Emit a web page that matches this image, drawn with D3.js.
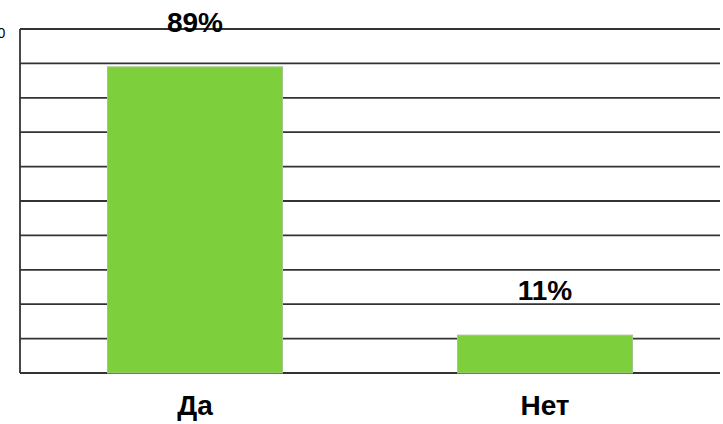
<!DOCTYPE html>
<html>
<head>
<meta charset="utf-8">
<script src="https://cdn.jsdelivr.net/npm/d3@7"></script>
<style>
    body { margin: 0; background: #fff; }
    svg { display: block; font-family: "Liberation Sans", Arial, sans-serif; }
    .value { font-size: 28px; font-weight: bold; fill: #000; }
    .category { font-size: 28px; font-weight: bold; fill: #000; }
    .tick-label { font-size: 14px; fill: #000; }
</style>
</head>
<body>
<script>
// Chart data
const categories = ["Да", "Нет"];
const values = [89, 11];
const valueLabels = ["89%", "11%"];
const yTicks = [0, 10, 20, 30, 40, 50, 60, 70, 80, 90, 100];

function createBarChart(width, height, margin) {
    const svg = d3.select("body")
        .append("svg")
        .attr("width", width)
        .attr("height", height);

    // Scales
    const x = d3.scaleBand()
        .domain(categories)
        .range([margin.left, width - margin.right])
        .paddingInner(0.5)
        .paddingOuter(0.25);

    const y = d3.scaleLinear()
        .domain([0, 100])
        .range([height - margin.bottom, margin.top]);

    // Horizontal grid lines
    svg.append("g")
        .attr("id", "grid")
        .selectAll("line")
        .data(yTicks)
        .join("line")
        .attr("x1", margin.left)
        .attr("x2", width - margin.right)
        .attr("y1", d => y(d))
        .attr("y2", d => y(d))
        .attr("stroke", "#333")
        .attr("stroke-width", 1.8);

    // Left axis line
    svg.append("line")
        .attr("x1", margin.left)
        .attr("x2", margin.left)
        .attr("y1", y(100))
        .attr("y2", y(0))
        .attr("stroke", "#333")
        .attr("stroke-width", 1.8);

    // Tick labels, cut by the left edge like in the source (only "100" peeks in)
    svg.append("g")
        .selectAll("text")
        .data(yTicks)
        .join("text")
        .attr("class", "tick-label")
        .attr("x", margin.left - 38)
        .attr("y", d => y(d) + 9)
        .text(d => d);

    // Bars
    svg.append("g")
        .attr("id", "bars")
        .selectAll("rect")
        .data(values)
        .join("rect")
        .attr("x", (d, i) => x(categories[i]))
        .attr("y", d => y(d))
        .attr("width", x.bandwidth())
        .attr("height", d => y(0) - y(d))
        .attr("fill", "#7dd03c")
        .attr("stroke", "#a3c48d")
        .attr("stroke-width", 1);

    // Value labels above bars
    svg.append("g")
        .selectAll("text")
        .data(values)
        .join("text")
        .attr("class", "value")
        .attr("text-anchor", "middle")
        .attr("x", (d, i) => x(categories[i]) + x.bandwidth() / 2)
        .attr("y", d => y(d) - 35)
        .text((d, i) => valueLabels[i]);

    // Category labels
    svg.append("g")
        .selectAll("text")
        .data(categories)
        .join("text")
        .attr("class", "category")
        .attr("text-anchor", "middle")
        .attr("x", d => x(d) + x.bandwidth() / 2)
        .attr("y", height - margin.bottom + 42)
        .text(d => d);
}

createBarChart(723, 424, { top: 29, right: 3, bottom: 51, left: 20 });
</script>
</body>
</html>
